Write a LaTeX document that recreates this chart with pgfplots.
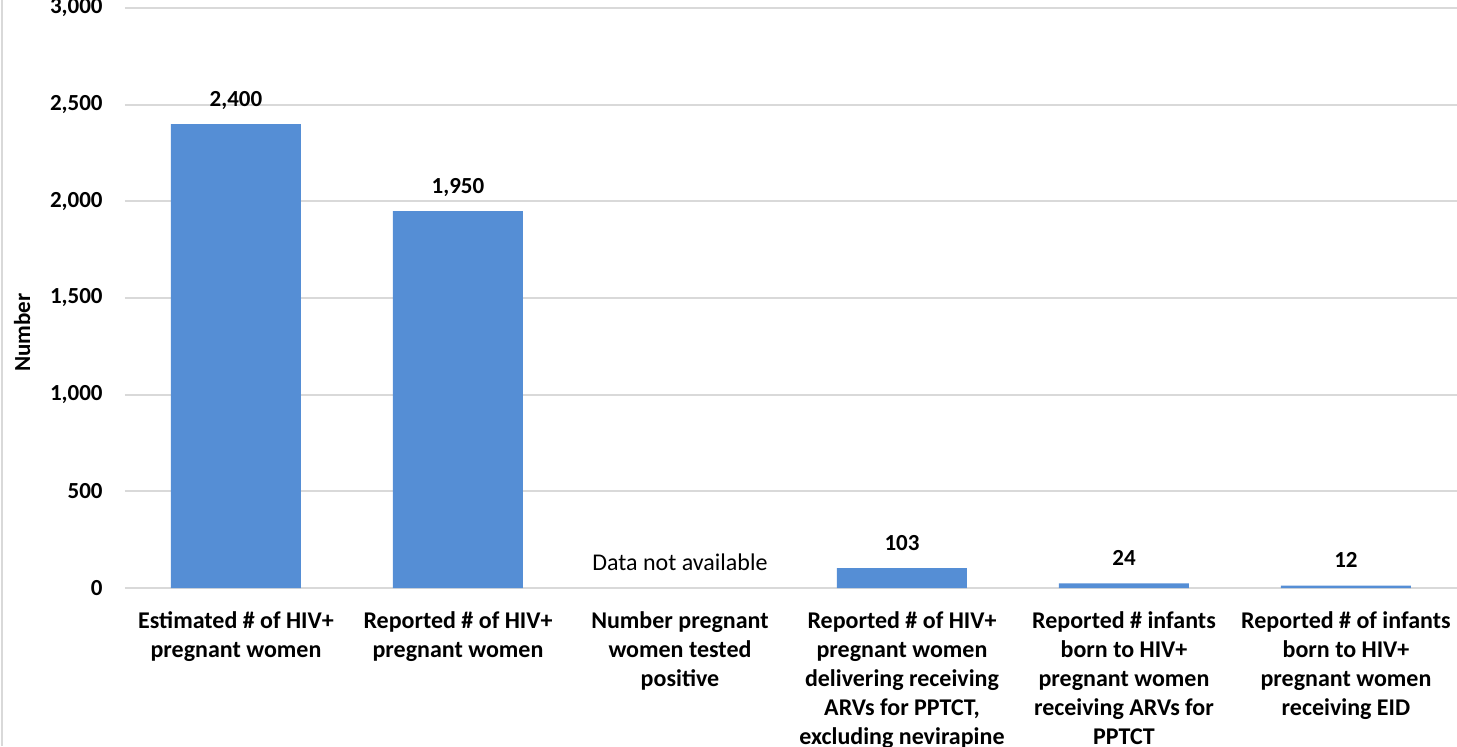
\documentclass[border=0pt]{standalone}
\usepackage{fontspec}
\setmainfont{Carlito}
\usepackage{pgfplots}
\pgfplotsset{compat=1.18}
\definecolor{barblue}{HTML}{558ED5}
\definecolor{gridgray}{HTML}{D9D9D9}
\newcommand{\lblfont}{\fontsize{11.5}{14.5}\selectfont\bfseries}
\newcommand{\catfont}{\fontsize{12}{14.5}\selectfont\bfseries}
\begin{document}
\begin{tikzpicture}
\useasboundingbox (-62.5pt,-79pt) rectangle (666pt,294pt);
\begin{scope}
\clip (-62.5pt,-79pt) rectangle (666pt,294pt);
\draw[gridgray, line width=0.6pt] (-61.5pt,-79pt) -- (-61.5pt,294pt);
\begin{axis}[
  overlay,
  at={(0pt,0pt)}, anchor=south west,
  scale only axis, width=666pt, height=290pt,
  xmin=-0.5, xmax=5.5, ymin=0, ymax=3000,
  ybar, bar width=65pt,
  axis line style={draw=none},
  tick style={draw=none},
  ymajorgrids, major grid style={gridgray, line width=1pt},
  ytick={0,500,1000,1500,2000,2500,3000},
  /pgf/number format/1000 sep={,},
  /pgf/number format/assume math mode=true,
  yticklabel style={font=\lblfont, anchor=east, inner sep=0pt, xshift=-11pt},
  xtick={0,1,2,3,4,5},
  xticklabels={{Estimated \# of HIV+\\pregnant women},
               {Reported \# of HIV+\\pregnant women},
               {Number pregnant\\women tested\\positive},
               {Reported \# of HIV+\\pregnant women\\delivering receiving\\ARVs for PPTCT,\\excluding nevirapine},
               {Reported \# infants\\born to HIV+\\pregnant women\\receiving ARVs for\\PPTCT},
               {Reported \# of infants\\born to HIV+\\pregnant women\\receiving EID}},
  xticklabel style={font=\catfont, align=center, anchor=north, inner sep=0pt, yshift=-7.15pt},
  ylabel={Number},
  ylabel style={font=\lblfont, at={(axis description cs:-0.0773,0.44)}, anchor=center},
  nodes near coords,
  point meta=explicit symbolic,
  every node near coord/.append style={font=\lblfont, anchor=base, inner sep=0pt, yshift=9pt},
  clip=false,
]
\addplot[fill=barblue, draw=none] table[x=x, y=y, meta=label] {
x y label
0 2400 {2,400}
1 1950 {1,950}
3 103 103
4 24 24
5 12 12
};
\node[font=\fontsize{12}{14.5}\selectfont, anchor=base, inner sep=0pt, yshift=9pt] at (axis cs:2,0) {Data not available};
\end{axis}
\end{scope}
\end{tikzpicture}
\end{document}
